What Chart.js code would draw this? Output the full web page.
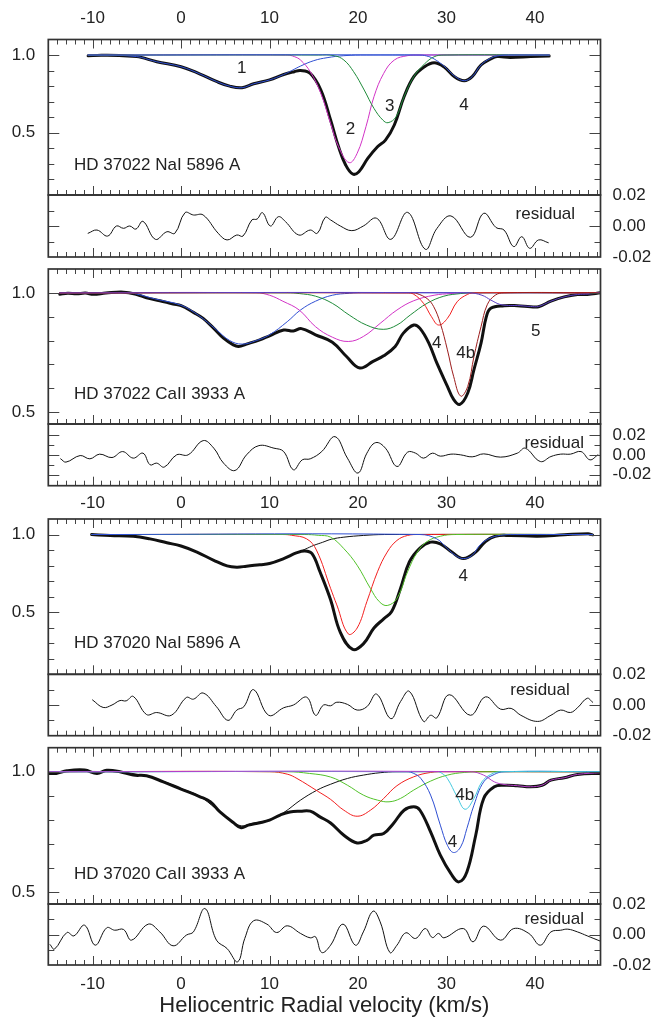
<!DOCTYPE html>
<html><head><meta charset="utf-8">
<script src="https://cdn.jsdelivr.net/npm/chart.js@4.4.1/dist/chart.umd.min.js"></script>
<style>
html,body{margin:0;padding:0;background:#fff;}
#wrap{position:relative;width:659px;height:1017px;overflow:hidden;background:#fff;}
canvas{position:absolute;left:0;top:0;width:659px;height:1017px;}
</style></head>
<body><div id="wrap">
<canvas id="m1" width="659" height="1017"></canvas>
<canvas id="r1" width="659" height="1017"></canvas>
<canvas id="m2" width="659" height="1017"></canvas>
<canvas id="r2" width="659" height="1017"></canvas>
<canvas id="m3" width="659" height="1017"></canvas>
<canvas id="r3" width="659" height="1017"></canvas>
<canvas id="m4" width="659" height="1017"></canvas>
<canvas id="r4" width="659" height="1017"></canvas>
</div>
<script>
// ---------- tick labels ----------
const xTickValues = [-10, 0, 10, 20, 30, 40];
const xTickLabels = ['-10', '0', '10', '20', '30', '40'];
const mainTickValues = [0.5, 1.0];
const mainTickLabels = ['0.5', '1.0'];
const resTickValues = [-0.02, 0, 0.02];
const resTickLabels = ['-0.02', '0.00', '0.02'];
const panelTitles = ['HD 37022 NaI 5896 A', 'HD 37022 CaII 3933 A', 'HD 37020 NaI 5896 A', 'HD 37020 CaII 3933 A'];
const axisTitle = 'Heliocentric Radial velocity (km/s)';

// ---------- Panel 1: HD 37022 NaI ----------
const p1Observed = [[-10.5,0.995],[-9,0.998],[-7,0.997],[-5,0.99],[-4.5,0.985],[-2.75,0.957],[0,0.925],[2.15,0.878],[4,0.83],[5.5,0.80],[6.9,0.79],[8.2,0.815],[10,0.84],[11.6,0.875],[12.8,0.893],[13.5,0.9],[14.6,0.882],[15.8,0.775],[16.9,0.582],[17.8,0.41],[18.6,0.293],[19.4,0.235],[20.1,0.25],[21.1,0.335],[22.2,0.41],[23.1,0.453],[24.1,0.55],[25.2,0.732],[26.3,0.861],[27.5,0.925],[28.6,0.951],[29.7,0.925],[30.9,0.861],[32,0.835],[32.9,0.861],[33.9,0.936],[35,0.975],[35.7,0.99],[37.2,0.985],[39.5,0.99],[41.6,0.994]];
const p1Comp1 = [[-10.5,1.0],[-7,0.998],[-5,0.99],[-4.5,0.985],[-2.75,0.957],[0,0.925],[2.15,0.878],[4,0.83],[5.5,0.80],[6.9,0.79],[8.2,0.815],[10,0.84],[11.6,0.875],[12.5,0.9],[13.5,0.929],[15,0.964],[16.5,0.983],[18.4,0.996],[21,1.0],[41.6,1.0]];
const p1Comp2 = [[-10.5,1],[12,1],[12.8,0.99],[13.5,0.968],[14.6,0.893],[15.8,0.753],[16.9,0.56],[17.8,0.41],[19,0.308],[19.9,0.368],[20.9,0.54],[21.8,0.732],[22.9,0.882],[24.1,0.968],[25.6,0.996],[27,1],[41.6,1]];
const p1Comp3 = [[-10.5,1],[15.5,1],[17.3,0.996],[18.4,0.968],[19.5,0.893],[20.7,0.775],[21.8,0.657],[22.8,0.582],[23.4,0.565],[24.3,0.603],[25.2,0.732],[26.3,0.861],[27.5,0.942],[28.6,0.989],[29.7,1],[41.6,1]];
const p1Comp4 = [[-10.5,1],[27,1],[28,0.99],[28.6,0.975],[29.7,0.93],[30.9,0.865],[32,0.835],[32.9,0.861],[33.9,0.936],[35,0.98],[36,0.997],[37,1],[41.6,1]];
const p1Residual = [[-10.5,-0.0047],[-9.5,-0.0026],[-8.3,-0.0065],[-7.3,0],[-6.5,-0.0015],[-5.8,0],[-5.1,-0.002],[-4.3,0.003],[-2.9,-0.0086],[-1.6,-0.0037],[-0.7,-0.0047],[0.45,0.0086],[1.4,0.0071],[2.5,0.0071],[4.2,-0.0047],[5.2,-0.009],[6.3,-0.0058],[7,-0.0065],[8,0.0039],[8.6,0.0045],[9.2,0.0086],[10.1,0],[11,0.006],[11.8,0.0028],[13.3,-0.0058],[14.6,-0.0026],[15.4,-0.0047],[16.3,0.0056],[16.9,0.0039],[18,0],[19.3,-0.003],[20.6,0],[22.1,0.005],[23.7,-0.0086],[25.6,0.0088],[27.6,-0.015],[28.9,-0.0017],[30.5,0.0065],[32.7,-0.0073],[34.2,0.0082],[35.6,-0.001],[36.5,-0.0026],[37.6,-0.0133],[38.5,-0.0069],[39.4,-0.0144],[40.4,-0.009],[41.5,-0.0108]];

// ---------- Panel 2: HD 37022 CaII ----------
const p2Observed = [[-13.7,0.994],[-12.8,0.998],[-11.8,0.996],[-10.8,0.999],[-9.9,0.994],[-8.5,0.999],[-6.5,1.003],[-5,0.993],[-3.9,0.979],[-2.4,0.967],[-0.9,0.953],[0,0.946],[1.4,0.918],[2.5,0.893],[3.7,0.851],[4.8,0.81],[5.9,0.782],[6.5,0.775],[7.4,0.785],[8.9,0.803],[10,0.82],[11.6,0.844],[12.7,0.84],[13.6,0.85],[15.2,0.824],[17.1,0.793],[18.7,0.733],[20.2,0.685],[21.7,0.7125],[22.9,0.736],[24.2,0.775],[25.1,0.83],[26.3,0.865],[27,0.851],[28,0.789],[28.9,0.706],[30.1,0.608],[30.8,0.553],[31.5,0.532],[32.4,0.58],[33.1,0.678],[33.9,0.789],[34.5,0.9],[35,0.935],[36.5,0.946],[38,0.946],[39.5,0.942],[40.4,0.942],[41.8,0.965],[43.3,0.983],[44.8,0.993],[45.9,0.993],[47.4,1.0]];
const p2Comp1 = [[-13.7,1],[-6,1],[-5,0.995],[-3,0.975],[0,0.948],[2,0.905],[4,0.845],[5.5,0.80],[6.9,0.785],[8.5,0.80],[10,0.824],[12,0.879],[13.5,0.928],[15.2,0.965],[17.1,0.99],[19,0.998],[21,1],[47.4,1]];
const p2Comp2 = [[-13.7,1],[8.5,1],[10,0.99],[11.5,0.965],[13.35,0.928],[15.2,0.858],[17.1,0.814],[18.9,0.796],[20.6,0.817],[22.5,0.872],[24.4,0.928],[26.3,0.967],[28.6,0.99],[30.5,0.997],[32,1],[47.4,1]];
const p2Comp3 = [[-13.7,1],[12,1],[13.35,0.997],[15.2,0.986],[17.1,0.956],[19,0.907],[20.95,0.865],[22.85,0.847],[24.4,0.865],[25.9,0.907],[27.8,0.956],[29.7,0.986],[31.6,0.997],[33,1],[47.4,1]];
const p2Comp4 = [[-13.7,1],[25.5,1],[26.3,0.994],[27.4,0.956],[28.3,0.9],[29.1,0.865],[30.1,0.893],[31.2,0.9625],[32.4,0.994],[33.2,1],[47.4,1]];
const p2Comp4b = [[-13.7,1],[26,1],[26.65,0.997],[27.8,0.976],[28.55,0.942],[29.3,0.872],[30.1,0.761],[30.8,0.65],[31.6,0.567],[32.4,0.608],[33.1,0.733],[33.9,0.858],[34.6,0.95],[35.5,0.99],[36.5,1],[47.4,1]];
const p2Comp5 = [[-13.7,1],[32.5,1],[34,0.99],[35,0.97],[36,0.952],[37,0.947],[38,0.947],[39.5,0.943],[40.4,0.943],[41.8,0.965],[43.3,0.983],[44.8,0.993],[46,0.995],[47.4,1]];
const p2Residual = [[-13.6,-0.004],[-13,-0.0073],[-11.4,-0.0007],[-10.3,-0.004],[-9.2,0.0007],[-7.8,-0.0027],[-6.6,0.0033],[-5.4,-0.0033],[-4.3,0.0017],[-3.5,-0.01],[-2.75,-0.0083],[-1.9,-0.0123],[-0.5,0],[0.8,0],[2.5,0.0143],[3.7,0.0067],[4.8,-0.0083],[6.1,-0.0157],[7.4,0],[8.8,0.0093],[10.5,0.0067],[11.6,0.0033],[12.7,-0.015],[13.7,-0.005],[14.6,-0.004],[15.9,0.0033],[17.4,0.0183],[18.8,-0.0033],[20,-0.0183],[21,0.0017],[22,0.0123],[23.1,0.0067],[24.4,-0.0117],[25.6,0.0027],[26.5,0.0017],[27.4,-0.0033],[28.4,0.0017],[29.3,-0.0013],[30.5,0.0007],[31.6,0],[32.9,-0.002],[34.2,0.001],[36.1,-0.0023],[38,0.0017],[38.9,0.0067],[40.6,-0.0067],[41.8,-0.0017],[42.9,0.0007],[44,0.0007],[45.2,0.0033],[46.2,-0.005],[47.1,0]];

// ---------- Panel 3: HD 37020 NaI ----------
const p3Observed = [[-10.1,1.0],[-8,0.994],[-5.4,0.989],[-3.5,0.972],[-1.6,0.947],[0,0.926],[1.8,0.887],[3.7,0.834],[5.2,0.798],[6.3,0.79],[7.4,0.796],[8.9,0.806],[10,0.813],[11.6,0.845],[13.1,0.883],[14,0.894],[14.8,0.877],[15.7,0.76],[16.9,0.58],[18,0.37],[19.4,0.26],[20.6,0.296],[21.8,0.398],[22.9,0.457],[23.8,0.504],[24.8,0.653],[25.8,0.823],[27,0.913],[28.2,0.951],[29.3,0.94],[30.6,0.887],[31.9,0.845],[33.3,0.887],[34.4,0.955],[35.5,0.989],[37.2,0.994],[40.3,0.989],[43.3,0.998],[46,1.005],[46.5,0.998]];
const p3Comp1 = [[-10.1,1],[-8,0.995],[-5.4,0.99],[-3.5,0.973],[-1.6,0.948],[0,0.927],[1.8,0.888],[3.7,0.835],[5.2,0.8],[6.3,0.79],[7.4,0.795],[8.9,0.805],[10,0.815],[11.6,0.845],[13,0.88],[14,0.905],[15,0.93],[16,0.95],[17,0.97],[18.4,0.983],[20.6,0.994],[23,1],[46.5,1]];
const p3Comp2 = [[-10.1,1],[11.5,1],[12.5,0.995],[14.2,0.972],[15.3,0.9],[16.9,0.653],[17.6,0.547],[18.9,0.36],[19.9,0.398],[21,0.568],[22.2,0.76],[23.3,0.887],[24.4,0.962],[25.6,0.994],[27,1],[46.5,1]];
const p3Comp3 = [[-10.1,1],[14,1],[15.5,0.995],[16.9,0.983],[18.4,0.909],[19.9,0.802],[21.4,0.653],[22.4,0.568],[23.3,0.543],[24.4,0.589],[25.6,0.76],[26.7,0.887],[27.8,0.955],[29.3,0.989],[31,1],[46.5,1]];
const p3Comp4 = [[-10.1,1],[27,1],[28.9,0.972],[30.1,0.909],[31,0.866],[31.9,0.845],[32.9,0.866],[33.8,0.934],[35,0.979],[36.5,0.998],[38,1],[46.5,1]];
const p3Residual = [[-10,0.0033],[-8.8,-0.0016],[-7.8,0],[-6.9,0.0029],[-6.2,0.0027],[-5.4,0.0056],[-3.9,-0.0062],[-2.75,-0.0049],[-1.1,-0.0067],[0.6,0.0049],[1.4,0.0038],[2.5,0.0078],[4,-0.0011],[5.3,-0.01],[6.3,-0.0033],[7.1,-0.0011],[8.2,0.01],[9.9,-0.0067],[11.6,-0.0018],[12.7,0],[14.2,0.0051],[15.2,-0.0067],[16.1,0],[16.9,-0.0005],[17.6,0.0018],[18.8,0.0004],[19.9,-0.0033],[21,-0.0011],[22.1,0.0071],[23.7,-0.0089],[24.8,0.0022],[25.8,0.0089],[27.4,-0.0107],[28.2,-0.0067],[28.9,-0.0084],[30.3,0.0067],[32.7,-0.0067],[34.4,0.0053],[36.1,-0.0027],[37.3,-0.0022],[38.4,-0.0067],[40.3,-0.0107],[41.8,-0.0067],[42.9,-0.0033],[44,-0.0049],[44.8,-0.0018],[45.9,0.0044],[46.5,0.0018]];

// ---------- Panel 4: HD 37020 CaII ----------
const p4Observed = [[-15,0.993],[-14.1,0.993],[-12.9,1.004],[-10.9,1.007],[-9.5,0.993],[-8.4,1.006],[-6.9,1.0],[-5.4,0.986],[-3.9,0.983],[-2,0.958],[0,0.928],[2.15,0.896],[3.3,0.875],[4.4,0.833],[5.9,0.789],[6.8,0.767],[7.6,0.778],[8.9,0.788],[10,0.799],[11.2,0.82],[12.3,0.833],[13.5,0.836],[14.6,0.836],[15.7,0.8125],[16.9,0.787],[18.4,0.736],[19.9,0.704],[21,0.715],[21.8,0.736],[22.9,0.743],[24,0.785],[25.2,0.84],[26.3,0.854],[27,0.84],[28.2,0.75],[29.3,0.653],[30.5,0.576],[31.4,0.542],[32.3,0.583],[33.3,0.736],[34.2,0.889],[35.4,0.9375],[36.5,0.944],[38,0.942],[39.5,0.9375],[40.8,0.944],[41.8,0.965],[43.3,0.975],[44.8,0.989],[47.4,0.993]];
const p4Comp1 = [[-15,1],[-8,1],[-5,0.99],[-2,0.96],[0,0.93],[2,0.9],[4,0.845],[5.5,0.8],[6.8,0.775],[8,0.785],[10,0.8],[11.6,0.83],[13.5,0.882],[15.4,0.924],[16.9,0.948],[18.8,0.972],[20.6,0.986],[22.5,0.996],[24.4,1],[47.4,1]];
const p4Comp2 = [[-15,1],[10,1],[12,0.99],[13.1,0.972],[15.4,0.92],[16.9,0.885],[18.4,0.84],[19.9,0.815],[21.4,0.84],[22.9,0.889],[24.4,0.942],[26.3,0.979],[28.2,0.997],[30,1],[47.4,1]];
const p4Comp3 = [[-15,1],[12,1],[14.5,0.993],[16.9,0.978],[18.8,0.944],[20.6,0.903],[22.2,0.882],[23.5,0.875],[24.8,0.889],[26.3,0.924],[28.2,0.961],[30.1,0.986],[32,0.997],[34,1],[47.4,1]];
const p4Comp4 = [[-15,1],[25.5,1],[26.3,0.993],[27.1,0.972],[28.2,0.903],[29.3,0.778],[30.1,0.694],[30.8,0.664],[31.6,0.6875],[32.3,0.764],[33.1,0.861],[34.2,0.958],[35.4,0.989],[36.5,1],[47.4,1]];
const p4Comp4b = [[-15,1],[29,1],[29.5,0.993],[30.1,0.972],[31.2,0.896],[32.1,0.844],[33.1,0.889],[34,0.958],[35,0.989],[36.1,1],[47.4,1]];
const p4Comp5 = [[-15,1],[32.7,1],[34.2,0.986],[35.4,0.958],[36.5,0.947],[38,0.942],[39.5,0.9375],[40.8,0.944],[41.8,0.965],[43.3,0.975],[44.8,0.989],[47.4,0.996]];
const p4Residual = [[-14.8,-0.0066],[-14.3,-0.0096],[-12.9,0.0013],[-12.1,-0.0009],[-10.9,0.0061],[-9.7,-0.007],[-8.4,0.0044],[-7.5,0.0028],[-6.5,0.0033],[-5.6,-0.0037],[-3.7,0.0068],[-2.4,0.0017],[-0.9,-0.0074],[0.6,-0.0004],[1.4,0.0017],[2.7,0.017],[4,-0.0037],[5.2,-0.0092],[6.4,-0.0179],[7.2,-0.0026],[8.2,0.009],[9.7,0.0068],[10.8,0.0013],[12,0.0057],[13.5,0.0007],[14.6,-0.0022],[15.2,-0.0015],[15.9,-0.0118],[16.9,-0.007],[18.3,0.0068],[19.7,-0.007],[20.6,0.0017],[21.7,0.0153],[22.5,0.0083],[23.6,-0.0118],[24.4,-0.007],[25.4,0.0011],[26.5,-0.0026],[27.6,0.0039],[28.4,-0.002],[29.1,0.0007],[29.7,-0.0022],[31.9,0.0039],[33,-0.0048],[34.2,0.0055],[36.1,-0.0037],[37.6,0.0039],[39.3,0.0007],[40.6,-0.007],[41.8,0.0017],[42.9,0.0028],[43.7,0.0035],[44.8,0.0017],[45.9,-0.0009],[47.4,-0.0044]];

// ---------- styling ----------
const FONT = "'Liberation Sans', Arial, Helvetica, sans-serif";
const INK = '#222';
const C = {blue:'#2f4fd2', magenta:'#d233c6', dgreen:'#1f8b3a', lgreen:'#52c22a', red:'#f21f1f', maroon:'#9b1c1c', cyan:'#44c9de', purple:'#5b3fc4', pink:'#b63ec8', black:'#111111'};
const X_MIN = -15, X_MAX = 47.4;
const AREA_L = 48.3, AREA_R = 600.5, W = 659, H = 1017;

function pts(arr){ return arr.map(p => ({x:p[0], y:p[1]})); }
function line(arr, color, width){
  return {data: pts(arr), borderColor: color, borderWidth: width, pointRadius: 0, fill: false,
          cubicInterpolationMode: 'default', tension: 0.4, borderJoinStyle: 'round', borderCapStyle: 'round'};
}

const frameTicks = {
  id: 'frameTicks',
  afterDatasetsDraw(chart, args, o){
    const ctx = chart.ctx, a = chart.chartArea, xs = chart.scales.x, ys = chart.scales.y;
    ctx.save();
    ctx.strokeStyle = '#444'; ctx.lineWidth = 1;
    ctx.beginPath();
    for (let v = Math.ceil(xs.min); v <= xs.max; v++){
      const px = Math.round(xs.getPixelForValue(v)) + 0.5;
      const len = (v % 10 === 0) ? 9 : 5;
      if (o.top){ ctx.moveTo(px, a.top); ctx.lineTo(px, a.top + len); }
      if (o.bottom){ ctx.moveTo(px, a.bottom); ctx.lineTo(px, a.bottom - len); }
    }
    for (const v of o.yTicks){
      const py = Math.round(ys.getPixelForValue(v)) + 0.5;
      const len = o.yMajor.some(m => Math.abs(m - v) < 1e-9) ? 11 : 6;
      ctx.moveTo(a.left, py); ctx.lineTo(a.left + len, py);
      ctx.moveTo(a.right, py); ctx.lineTo(a.right - len, py);
    }
    ctx.stroke();
    ctx.lineWidth = 1.7; ctx.strokeStyle = '#333';
    ctx.strokeRect(a.left, a.top, a.right - a.left, a.bottom - a.top);
    ctx.fillStyle = INK; ctx.textBaseline = 'middle';
    ctx.font = '17px ' + FONT;
    for (const t of (o.texts || [])){
      ctx.textAlign = t.align || 'center';
      ctx.fillText(t.text, xs.getPixelForValue(t.x), ys.getPixelForValue(t.y));
    }
    ctx.restore();
  }
};

function build(id, c){
  const yW = c.ySide === 'left' ? AREA_L : (W - AREA_R);
  return new Chart(document.getElementById(id), {
    type: 'line',
    data: {datasets: c.datasets},
    options: {
      responsive: false, animation: false, devicePixelRatio: 1, events: [],
      layout: {padding: c.pad},
      plugins: {legend: {display: false}, tooltip: {enabled: false}, frameTicks: c.frame},
      scales: {
        x: {
          type: 'linear', min: X_MIN, max: X_MAX, position: c.xSide || 'bottom', display: !!c.xSide,
          grid: {display: false, drawTicks: false}, border: {display: false},
          afterBuildTicks: s => { s.ticks = xTickValues.map(v => ({value: v})); },
          afterFit: s => { if (c.xHeight) s.height = c.xHeight; },
          ticks: {autoSkip: false, maxRotation: 0, padding: c.xPad || 0, font: {family: FONT, size: 17}, color: INK,
                  callback: v => xTickLabels[xTickValues.indexOf(v)]},
          title: c.xTitle || {display: false}
        },
        y: {
          type: 'linear', min: c.yMin, max: c.yMax, position: c.ySide,
          grid: {display: false, drawTicks: false}, border: {display: false},
          afterBuildTicks: s => { s.ticks = c.yVals.map(v => ({value: v})); },
          afterFit: s => { s.width = yW; },
          ticks: {autoSkip: false, padding: c.yPad, font: {family: FONT, size: 17}, color: INK,
                  callback: v => c.yLabels[c.yVals.indexOf(v)]}
        }
      }
    },
    plugins: [frameTicks]
  });
}

const mainTicksA = [0.2,0.3,0.4,0.5,0.6,0.7,0.8,0.9,1.0];
const mainTicksB = [0.5,0.6,0.7,0.8,0.9,1.0];
const resTicksA = [-0.01, 0, 0.01];
const resTicksB = [-0.02,-0.01,0,0.01,0.02];

// Panel 1 main
build('m1', {
  datasets: [line(p1Comp4, C.blue, 1), line(p1Comp3, C.dgreen, 1), line(p1Comp2, C.magenta, 1), line(p1Comp1, C.blue, 1), line(p1Observed, C.black, 3)],
  yMin: 0.1, yMax: 1.1, ySide: 'left', yVals: mainTickValues, yLabels: mainTickLabels, yPad: 13,
  xSide: 'top', xHeight: 39.5, xPad: 11,
  pad: {top: 0, left: 0, right: W - AREA_R, bottom: H - 195},
  frame: {top: true, bottom: true, yTicks: mainTicksA, yMajor: mainTickValues, texts: [
    {text: panelTitles[0], x: -12.1, y: 0.288, align: 'left'},
    {text: '1', x: 6.87, y: 0.914}, {text: '2', x: 19.14, y: 0.522}, {text: '3', x: 23.59, y: 0.668}, {text: '4', x: 31.97, y: 0.678}
  ]}
});
build('r1', {
  datasets: [line(p1Residual, C.black, 1)],
  yMin: -0.02, yMax: 0.02, ySide: 'right', yVals: resTickValues, yLabels: resTickLabels, yPad: 12,
  pad: {top: 195, left: AREA_L, right: 0, bottom: H - 257},
  frame: {top: false, bottom: true, yTicks: resTicksA, yMajor: [0], texts: [{text: 'residual', x: 37.8, y: 0.0077, align: 'left'}]}
});

// Panel 2
build('m2', {
  datasets: [line(p2Comp5, C.purple, 1), line(p2Comp4b, C.maroon, 1), line(p2Comp4, C.red, 1), line(p2Comp3, C.dgreen, 1), line(p2Comp2, C.magenta, 1), line(p2Comp1, C.blue, 1), line(p2Observed, C.black, 3)],
  yMin: 0.45, yMax: 1.1, ySide: 'left', yVals: mainTickValues, yLabels: mainTickLabels, yPad: 13,
  pad: {top: 269, left: 0, right: W - AREA_R, bottom: H - 424},
  frame: {top: true, bottom: true, yTicks: mainTicksB, yMajor: mainTickValues, texts: [
    {text: panelTitles[1], x: -12.1, y: 0.574, align: 'left'},
    {text: '4', x: 28.88, y: 0.789}, {text: '4b', x: 32.16, y: 0.745}, {text: '5', x: 40.09, y: 0.84}
  ]}
});
build('r2', {
  datasets: [line(p2Residual, C.black, 1)],
  yMin: -0.031, yMax: 0.031, ySide: 'right', yVals: resTickValues, yLabels: resTickLabels, yPad: 12,
  xSide: 'bottom', xHeight: 40, xPad: 7,
  pad: {top: 424, left: AREA_L, right: 0, bottom: H - 485.7 - 40},
  frame: {top: false, bottom: true, yTicks: resTicksB, yMajor: [-0.02, 0, 0.02], texts: [{text: 'residual', x: 38.8, y: 0.0117, align: 'left'}]}
});

// Panel 3
build('m3', {
  datasets: [line(p3Comp4, C.blue, 1), line(p3Comp3, C.lgreen, 1), line(p3Comp2, C.red, 1), line(p3Comp1, C.black, 1), line(p3Observed, C.black, 3)],
  yMin: 0.1, yMax: 1.1, ySide: 'left', yVals: mainTickValues, yLabels: mainTickLabels, yPad: 13,
  pad: {top: 519, left: 0, right: W - AREA_R, bottom: H - 674.3},
  frame: {top: true, bottom: true, yTicks: mainTicksA, yMajor: mainTickValues, texts: [
    {text: panelTitles[2], x: -12.1, y: 0.302, align: 'left'},
    {text: '4', x: 31.9, y: 0.728}
  ]}
});
build('r3', {
  datasets: [line(p3Residual, C.black, 1)],
  yMin: -0.02, yMax: 0.02, ySide: 'right', yVals: resTickValues, yLabels: resTickLabels, yPad: 12,
  pad: {top: 674.3, left: AREA_L, right: 0, bottom: H - 735.7},
  frame: {top: false, bottom: true, yTicks: resTicksA, yMajor: [0], texts: [{text: 'residual', x: 37.2, y: 0.0093, align: 'left'}]}
});

// Panel 4
build('m4', {
  datasets: [line(p4Comp5, C.pink, 1), line(p4Comp4b, C.cyan, 1), line(p4Comp4, C.blue, 1), line(p4Comp3, C.lgreen, 1), line(p4Comp2, C.red, 1), line(p4Comp1, C.black, 1), line(p4Observed, C.black, 3)],
  yMin: 0.45, yMax: 1.1, ySide: 'left', yVals: mainTickValues, yLabels: mainTickLabels, yPad: 13,
  pad: {top: 747.7, left: 0, right: W - AREA_R, bottom: H - 904},
  frame: {top: true, bottom: true, yTicks: mainTicksB, yMajor: mainTickValues, texts: [
    {text: panelTitles[3], x: -12.1, y: 0.574, align: 'left'},
    {text: '4b', x: 32.05, y: 0.903}, {text: '4', x: 30.66, y: 0.708}
  ]}
});
build('r4', {
  datasets: [line(p4Residual, C.black, 1)],
  yMin: -0.02, yMax: 0.02, ySide: 'right', yVals: resTickValues, yLabels: resTickLabels, yPad: 12,
  xSide: 'bottom', xHeight: H - 965, xPad: 9,
  xTitle: {display: true, text: axisTitle, color: INK, font: {family: FONT, size: 22, lineHeight: 1}, padding: {top: 0, bottom: 0}},
  pad: {top: 904, left: AREA_L, right: 0, bottom: 0},
  frame: {top: false, bottom: true, yTicks: resTicksA, yMajor: [0], texts: [{text: 'residual', x: 38.8, y: 0.0098, align: 'left'}]}
});
</script>
</body></html>
